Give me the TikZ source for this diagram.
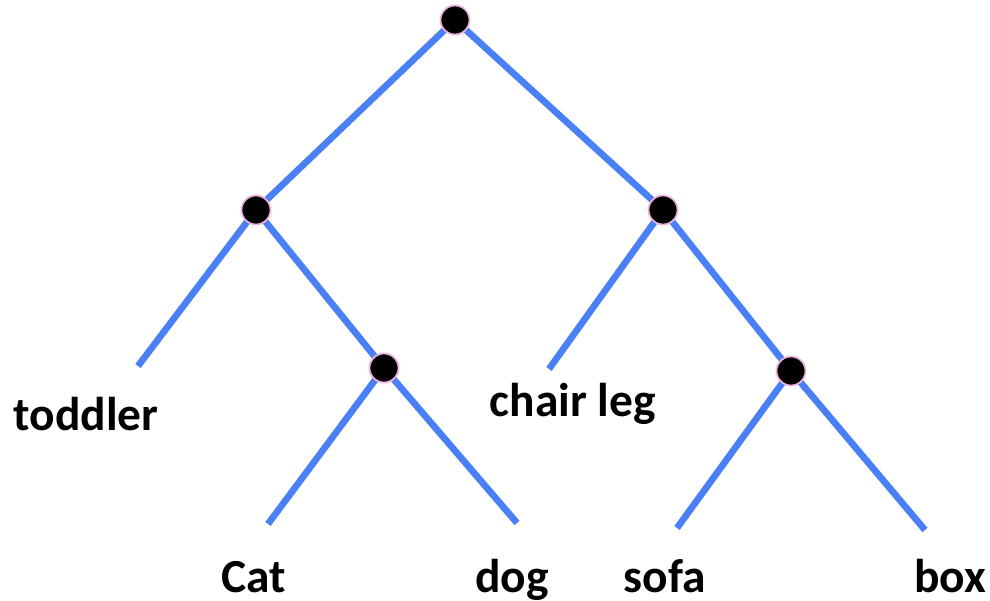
\documentclass[tikz,border=0pt]{standalone}
\usepackage{fontspec}
\setmainfont{Carlito}
\usepackage{xcolor}
\definecolor{treeblue}{RGB}{74,128,245}
\definecolor{dotpink}{RGB}{240,176,222}
\tikzset{
  treeedge/.style={draw=treeblue, line width=3.8pt},
  treedot/.style={circle, fill=black, draw=dotpink, line width=1pt, minimum size=0.58cm, inner sep=0pt},
  treeleaf/.style={anchor=base, font=\fontsize{27}{31}\selectfont\bfseries, inner sep=0pt},
}
\begin{document}
\begin{tikzpicture}
  \useasboundingbox (0,0) rectangle (19.8,12.02);

  % Inner nodes
  \coordinate (root) at (9.10,11.62);
  \coordinate (left) at (5.12,7.82);
  \coordinate (right) at (13.26,7.82);
  \coordinate (pets) at (7.68,4.66);
  \coordinate (furn) at (15.82,4.60);

  % Free ends of the leaf edges
  \coordinate (toddlerend) at (2.76,4.70);
  \coordinate (catend) at (5.36,1.54);
  \coordinate (dogend) at (10.34,1.56);
  \coordinate (chairend) at (10.98,4.64);
  \coordinate (sofaend) at (13.54,1.46);
  \coordinate (boxend) at (18.50,1.42);

  \draw[treeedge] (root) -- (left);
  \draw[treeedge] (root) -- (right);
  \draw[treeedge] (left) -- (toddlerend);
  \draw[treeedge] (left) -- (pets);
  \draw[treeedge] (pets) -- (catend);
  \draw[treeedge] (pets) -- (dogend);
  \draw[treeedge] (right) -- (chairend);
  \draw[treeedge] (right) -- (furn);
  \draw[treeedge] (furn) -- (sofaend);
  \draw[treeedge] (furn) -- (boxend);

  \foreach \n in {root,left,right,pets,furn}
    \node[treedot] (\n dot) at (\n) {};

  % Leaf labels
  \node[treeleaf] (toddler) at (1.72,3.40) {toddler};
  \node[treeleaf] (chairleg) at (11.46,3.68) {chair leg};
  \node[treeleaf] (cat) at (5.08,0.16) {Cat};
  \node[treeleaf] (dog) at (10.24,0.16) {dog};
  \node[treeleaf] (sofa) at (13.30,0.16) {sofa};
  \node[treeleaf] (box) at (19.00,0.16) {box};
\end{tikzpicture}
\end{document}
